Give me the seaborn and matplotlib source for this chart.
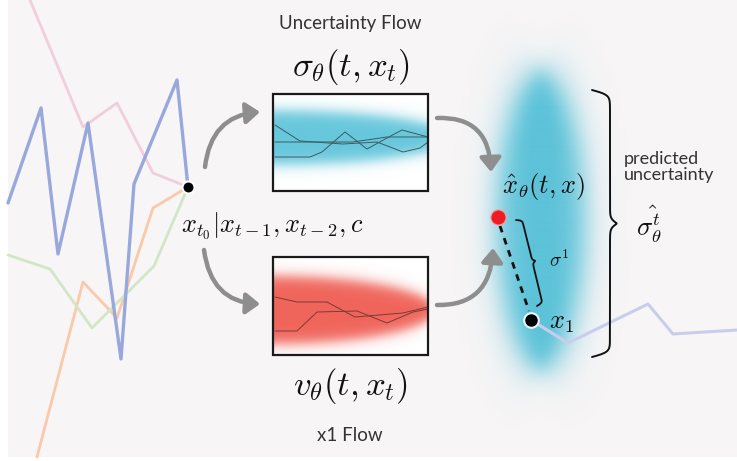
import numpy as np
import matplotlib
matplotlib.use("Agg")
import matplotlib.pyplot as plt
import seaborn as sns
from matplotlib.patches import Rectangle, FancyArrowPatch
from matplotlib.path import Path
from matplotlib.colors import to_rgb

sns.set_style("white")
plt.rcParams['font.family'] = ['Lato', 'DejaVu Sans']
plt.rcParams['mathtext.fontset'] = 'cm'

# ---------------- data (diagram pixel coordinates, y downwards) ----------------
blue_x = [8, 41, 58, 88, 121, 134, 177, 188]
blue_y = [203, 108, 254, 123, 359, 184, 80, 187]
pink_x = [30, 83, 117, 153, 188]
pink_y = [0, 127, 103, 173, 187]
orange_x = [37, 83, 117, 153, 188]
orange_y = [457, 282, 318, 208, 187]
green_x = [8, 50, 92, 154, 188]
green_y = [255, 269, 328, 266, 187]
blue_tail_x = [531, 568, 648, 673, 737]
blue_tail_y = [320, 343, 304, 334, 330]

cyan_lines_x = [[275, 300, 343, 377, 403, 420, 428],
                [275, 310, 322, 345, 367, 387, 402, 428],
                [275, 353, 387, 428]]
cyan_lines_y = [[125, 141, 144, 142, 152, 148, 142],
                [157, 157, 152, 132, 149, 138, 130, 137],
                [142, 142, 137, 137]]
red_lines_x = [[275, 297, 327, 355, 403, 428],
               [275, 297, 317, 357, 387, 413, 428]]
red_lines_y = [[297, 302, 302, 317, 313, 307],
               [331, 331, 312, 311, 323, 312, 309]]

top_box = (273, 94, 428, 191)
bot_box = (273, 257, 428, 355)

start_pt = (188, 187)
pred_pt = (498, 217)
target_pt = (531, 320)

labels = {
    "unc_flow": "Uncertainty Flow",
    "x1_flow": "x1 Flow",
    "sigma": r"$\sigma_\theta(t, x_t)$",
    "v": r"$v_\theta(t, x_t)$",
    "cond": r"$x_{t_0}|x_{t-1}, x_{t-2}, c$",
    "xhat": r"$\hat{x}_\theta(t, x)$",
    "sig1": r"$\sigma^1$",
    "x1": r"$x_1$",
    "pred": "predicted\nuncertainty",
    "sighat": r"$\hat{\sigma_\theta^t}$",
}

BG = "#f7f5f6"
CYAN = "#5cc3d9"
CYAN_BOX = "#66c7dc"
RED = "#f0645a"
ARROW = "#8e8e8e"

W, H = 737, 461
fig = plt.figure(figsize=(W / 100, H / 100), dpi=100)
fig.patch.set_facecolor("white")
ax = fig.add_axes([0, 0, 1, 1])
ax.set_xlim(0, W)
ax.set_ylim(H, 0)
ax.axis("off")

ax.add_patch(Rectangle((8, 0), W - 8, 457, facecolor=BG, edgecolor="none", zorder=0))


def rgba_img(color, alpha):
    r, g, b = to_rgb(color)
    img = np.zeros(alpha.shape + (4,))
    img[..., 0], img[..., 1], img[..., 2] = r, g, b
    img[..., 3] = np.clip(alpha, 0, 1)
    return img


# big uncertainty blob (soft-edged ellipse)
bx0, bx1, by0, by1 = 440, 645, 10, 440
gx, gy = np.meshgrid(np.linspace(bx0, bx1, 410), np.linspace(by0, by1, 860))
cx, cy, sa, sb = 541, 221, 44, 148
rr = np.sqrt(((gx - cx) / sa) ** 2 + ((gy - cy) / sb) ** 2) + 1e-9
grad = np.sqrt(((gx - cx) / sa ** 2) ** 2 + ((gy - cy) / sb ** 2) ** 2) / rr + 1e-9
dist = (rr - 1) / grad
blob_alpha = 1 / (1 + np.exp(dist / 8.5))
ax.imshow(rgba_img(CYAN, blob_alpha), extent=(bx0, bx1, by1, by0),
          interpolation="bilinear", zorder=1, aspect="auto")

# context series
for xs, ys, c, lw in [(pink_x, pink_y, "#f1cddd", 2.0),
                      (orange_x, orange_y, "#f9c9a9", 2.0),
                      (green_x, green_y, "#d2e6c6", 2.0),
                      (blue_x, blue_y, "#99a8dc", 2.4),
                      (blue_tail_x, blue_tail_y, "#c9cdec", 2.2)]:
    sns.lineplot(x=xs, y=ys, sort=False, estimator=None, color=c, lw=lw,
                 ax=ax, zorder=2)


def band(box, color, center, half, length, soft):
    x0, y0, x1, y1 = box
    gx, gy = np.meshgrid(np.linspace(x0, x1, 300), np.linspace(y0, y1, 200))
    h = half * np.sqrt(np.clip(1 - ((gx - x0) / length) ** 2, 0, 1))
    a = 1 / (1 + np.exp((np.abs(gy - center) - h) / soft))
    ax.add_patch(Rectangle((x0, y0), x1 - x0, y1 - y0, facecolor="white",
                           edgecolor="none", zorder=3))
    ax.imshow(rgba_img(color, a), extent=(x0, x1, y1, y0),
              interpolation="bilinear", zorder=4, aspect="auto")
    ax.add_patch(Rectangle((x0, y0), x1 - x0, y1 - y0, facecolor="none",
                           edgecolor="#1a1a1a", lw=1.6, zorder=6))


band(top_box, CYAN_BOX, 138, 27, 180, 3.8)
band(bot_box, RED, 310, 34, 162, 3.8)

for xs, ys in zip(cyan_lines_x, cyan_lines_y):
    sns.lineplot(x=xs, y=ys, sort=False, estimator=None, color="#3d5a60",
                 lw=0.7, ax=ax, zorder=5)
for xs, ys in zip(red_lines_x, red_lines_y):
    sns.lineplot(x=xs, y=ys, sort=False, estimator=None, color="#7a3a35",
                 lw=0.7, ax=ax, zorder=5)

# curved arrows
arrow_paths = [((205, 167), (211, 116), (260, 112)),
               ((204, 250), (211, 302), (260, 304)),
               ((437, 118), (489, 116), (491, 172)),
               ((437, 305), (490, 306), (493, 248))]
for p0, pc, p1 in arrow_paths:
    path = Path([p0, pc, p1], [Path.MOVETO, Path.CURVE3, Path.CURVE3])
    ar = FancyArrowPatch(path=path, arrowstyle="-|>,head_length=0.55,head_width=0.42",
                         mutation_scale=15, color=ARROW, lw=3.2, zorder=6)
    ax.add_patch(ar)

# dashed line between prediction and target
ax.plot([pred_pt[0] + 2, target_pt[0] - 2], [pred_pt[1] + 9, target_pt[1] - 9],
        color="#111111", lw=2.0, ls=(0, (2.4, 2.2)), zorder=7)


def brace(p0, p1, A, B, k, n=400):
    p0, p1 = np.array(p0, float), np.array(p1, float)
    L = np.linalg.norm(p1 - p0)
    u = (p1 - p0) / L
    nv = np.array([u[1], -u[0]])
    t = np.linspace(0, 1, n)
    th = np.where(t <= 0.5, t, 1 - t)
    sig = lambda z: 1 / (1 + np.exp(-z))
    off = A * (2 * sig(k * th) - 1) + B * 2 * sig(k * (th - 0.5))
    off = off - off[0]
    pts = p0[None, :] + t[:, None] * (p1 - p0)[None, :] + off[:, None] * nv[None, :]
    return pts[:, 0], pts[:, 1]


xs, ys = brace((516, 220), (537, 306), 6, 3, 90)
ax.plot(xs, ys, color="#111111", lw=1.3, zorder=7)
xs, ys = brace((592, 90), (592, 357), 18, 7, 110)
ax.plot(xs, ys, color="#111111", lw=1.4, zorder=7)

# points
sns.scatterplot(x=[start_pt[0]], y=[start_pt[1]], s=75, color="black",
                edgecolor="white", linewidth=1.5, ax=ax, zorder=8)
sns.scatterplot(x=[pred_pt[0]], y=[pred_pt[1]], s=120, color="#ee1c25",
                edgecolor="#f6a0a0", linewidth=0.8, ax=ax, zorder=8)
sns.scatterplot(x=[target_pt[0]], y=[target_pt[1]], s=110, color="black",
                edgecolor="#e8f6f8", linewidth=1.5, ax=ax, zorder=8)

# texts
tc = "#333333"
ax.text(350, 23, labels["unc_flow"], ha="center", va="center", fontsize=13.5, color=tc)
ax.text(351, 67, labels["sigma"], ha="center", va="center", fontsize=25, color="#111")
ax.text(351, 386, labels["v"], ha="center", va="center", fontsize=25, color="#111")
ax.text(350, 435, labels["x1_flow"], ha="center", va="center", fontsize=13.5, color=tc)
ax.text(181, 226, labels["cond"], ha="left", va="center", fontsize=19, color="#111")
ax.text(543, 186, labels["xhat"], ha="center", va="center", fontsize=19, color="#111")
ax.text(549, 259, labels["sig1"], ha="left", va="center", fontsize=14, color="#111")
ax.text(549, 322, labels["x1"], ha="left", va="center", fontsize=19, color="#111")
ax.text(624, 167, labels["pred"], ha="left", va="center", fontsize=13,
        color=tc, linespacing=0.95)
ax.text(636, 224, labels["sighat"], ha="left", va="center", fontsize=19, color="#111")

ax.set_xlim(0, W)
ax.set_ylim(H, 0)
ax.axis("off")
leg = ax.get_legend()
if leg is not None:
    leg.remove()
fig.savefig("out.png", dpi=100, facecolor="white")
